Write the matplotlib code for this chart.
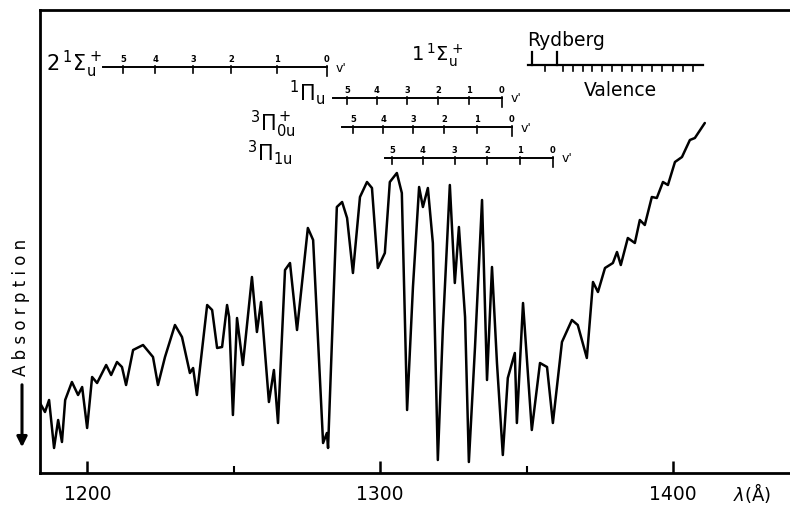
import matplotlib.pyplot as plt
import numpy as np

plt.rcParams["font.family"] = ["DejaVu Sans"]
plt.rcParams["mathtext.fontset"] = "dejavusans"

# ---- absorption spectrum (wavelength in Angstrom, arbitrary units) ----
wavelength = [
    1183.8, 1185.5, 1186.9, 1188.6, 1190.0, 1191.3, 1192.4, 1194.7, 1196.8, 1198.2,
    1199.9, 1201.6, 1203.3, 1206.4, 1208.1, 1210.1, 1211.8, 1213.2, 1215.6, 1219.0,
    1222.4, 1224.1, 1226.5, 1229.9, 1232.3, 1235.0, 1236.1, 1237.4, 1240.9, 1242.6,
    1244.3, 1246.0, 1247.7, 1248.4, 1249.7, 1251.1, 1253.1, 1256.2, 1257.9, 1259.3,
    1262.0, 1263.7, 1265.1, 1267.5, 1269.2, 1271.6, 1275.3, 1277.1, 1280.5, 1281.8,
    1282.2, 1285.2, 1287.0, 1288.7, 1290.7, 1293.1, 1295.5, 1297.2, 1299.2, 1301.6,
    1303.3, 1305.7, 1307.4, 1309.2, 1311.2, 1313.3, 1314.6, 1316.3, 1318.0, 1319.7,
    1321.4, 1323.8, 1325.5, 1326.9, 1329.0, 1330.3, 1332.4, 1334.8, 1336.5, 1338.2,
    1339.9, 1341.9, 1343.6, 1346.0, 1346.7, 1348.8, 1351.8, 1354.6, 1357.0, 1359.0,
    1362.1, 1365.5, 1367.5, 1370.6, 1372.7, 1374.4, 1376.8, 1379.5, 1380.9, 1382.2,
    1384.6, 1387.0, 1388.7, 1390.4, 1392.8, 1394.5, 1396.6, 1398.3, 1400.7, 1403.1,
    1405.8, 1407.5, 1410.9,
]
absorption = [
    70, 61, 73, 25, 53, 31, 73, 91, 78, 86,
    45, 96, 90, 108, 98, 111, 106, 88, 123, 128,
    116, 88, 116, 148, 136, 100, 105, 78, 168, 163,
    125, 126, 168, 156, 58, 155, 108, 196, 141, 171,
    71, 103, 50, 203, 210, 143, 245, 233, 30, 40,
    25, 266, 271, 255, 200, 276, 291, 285, 205, 220,
    291, 300, 280, 63, 186, 286, 266, 285, 230, 13,
    143, 288, 190, 246, 156, 11, 126, 273, 93, 206,
    110, 18, 95, 120, 50, 170, 43, 110, 106, 50,
    131, 153, 148, 115, 191, 181, 205, 210, 221, 208,
    235, 230, 253, 248, 276, 275, 291, 288, 311, 316,
    333, 335, 350,
]

# ---- vibrational progressions (band positions, v' labels) ----
sigma2_bands = [1212.2, 1223.1, 1236.1, 1249.0, 1264.8, 1281.8]
pi1_bands = [1288.7, 1298.9, 1309.2, 1319.7, 1330.3, 1341.6]
pi0_bands = [1290.7, 1301.0, 1311.2, 1321.8, 1333.1, 1345.0]
pi1u_bands = [1304.0, 1314.6, 1325.5, 1336.5, 1347.7, 1359.0]
v_labels = ["5", "4", "3", "2", "1", "0"]
bar_starts = [1205.3, 1283.9, 1287.0, 1301.6]

rydberg_ticks = [1351.8, 1360.4]
valence_ticks = [1356.2, 1362.4, 1365.8, 1369.3, 1372.3, 1375.7, 1379.2, 1382.6,
                 1386.0, 1389.4, 1392.8, 1396.2, 1400.0, 1403.4, 1406.8]
rv_span = [1350.5, 1410.2]

fig = plt.figure(figsize=(7.9, 5.07), dpi=100)
ax = fig.add_axes([40 / 790, 34 / 507, 750 / 790, 463 / 507])

ax.plot(wavelength, absorption, color="black", linewidth=1.8,
        solid_joinstyle="round", solid_capstyle="round")

ax.set_xlim(1183.8, 1440.0)
ax.set_ylim(0, 463)

ax.spines["right"].set_visible(False)
for s in ["left", "bottom", "top"]:
    ax.spines[s].set_linewidth(2.0)
ax.set_yticks([])
ax.set_xticks([1200, 1300, 1400])
ax.set_xticklabels(["1200", "1300", "1400"])
ax.set_xticks([1250, 1350], minor=True)
ax.tick_params(axis="x", which="major", direction="in", length=9, width=1.8,
               labelsize=13.5, pad=9)
ax.tick_params(axis="x", which="minor", direction="in", length=5, width=1.5)

ax.text(1427, -20, r"$\lambda$(Å)", ha="center", va="center", fontsize=13)

# y label (letter-spaced) and arrow outside the axes
fig.text(21 / 790, 1 - 307 / 507, " ".join("Absorption"), rotation=90,
         ha="center", va="center", fontsize=12)
ax.annotate("", xy=(22 / 790, 1 - 450 / 507), xytext=(22 / 790, 1 - 382 / 507),
            xycoords="figure fraction", textcoords="figure fraction",
            arrowprops=dict(arrowstyle="-|>", color="black", lw=2.2,
                            mutation_scale=15))

# progression bars
bars = [
    (bar_starts[0], sigma2_bands, 406),
    (bar_starts[1], pi1_bands, 375),
    (bar_starts[2], pi0_bands, 346),
    (bar_starts[3], pi1u_bands, 315),
]
for start, bands, y in bars:
    ax.plot([start, bands[-1]], [y, y], color="black", lw=1.4)
    for k, (b, lab) in enumerate(zip(bands, v_labels)):
        length = 9 if k == len(bands) - 1 else 6
        ax.plot([b, b], [y + 1, y - length], color="black", lw=1.2)
        ax.text(b, y + 3, lab, ha="center", va="bottom", fontsize=6,
                fontweight="bold")
    ax.text(bands[-1] + 3, y - 1, "v'", ha="left", va="center", fontsize=9)

ax.text(1205, 409, r"$2\,{}^1\Sigma_\mathrm{u}^+$", ha="right", va="center", fontsize=15)
ax.text(1281, 380, r"${}^1\Pi_\mathrm{u}$", ha="right", va="center", fontsize=15)
ax.text(1271, 349, r"${}^3\Pi_{0\mathrm{u}}^+$", ha="right", va="center", fontsize=15)
ax.text(1270, 320, r"${}^3\Pi_{1\mathrm{u}}$", ha="right", va="center", fontsize=15)
ax.text(1319.5, 418, r"$1\,{}^1\Sigma_\mathrm{u}^+$", ha="center", va="center", fontsize=14)

# Rydberg / valence assignment bar
y_rv = 408
ax.plot(rv_span, [y_rv, y_rv], color="black", lw=1.6)
for t in rydberg_ticks:
    ax.plot([t, t], [y_rv, y_rv + 13], color="black", lw=1.6)
for t in valence_ticks:
    ax.plot([t, t], [y_rv, y_rv - 6], color="black", lw=1.2)
ax.text(1363.5, 433, "Rydberg", ha="center", va="center", fontsize=13.5)
ax.text(1382, 382, "Valence", ha="center", va="center", fontsize=13.5)

fig.savefig("out.png", dpi=100)
